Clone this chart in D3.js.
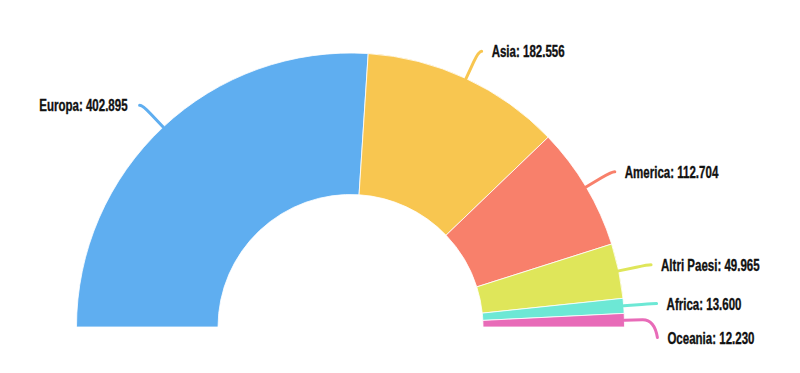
<!DOCTYPE html>
<html>
<head>
<meta charset="utf-8">
<script src="https://cdn.jsdelivr.net/npm/d3@7"></script>
<style>
  body { margin: 0; background: #fff; }
  text { font-family: "Liberation Sans", Arial, sans-serif; font-weight: bold; font-size: 16px; fill: #111; stroke: #111; stroke-width: 0.35px; }
</style>
</head>
<body>
<script>
// continents and residents
const categories = ['Europa', 'Asia', 'America', 'Altri Paesi', 'Africa', 'Oceania'];
const values = [402895, 182556, 112704, 49965, 13600, 12230];
const colors = ['#5faef0', '#f8c650', '#f8806b', '#dfe65a', '#6de8d5', '#e86bb8'];

const width = 800, height = 373;
const cx = 350.5, cy = 327;
const outerR = 274, innerR = 132.5;

const it = d3.formatLocale({ decimal: ',', thousands: '.', grouping: [3], currency: ['€', ''] });
const fmt = it.format(',d');

const data = categories.map((c, i) => ({ name: c, value: values[i], color: colors[i] }));

const pie = d3.pie()
	.value(d => d.value)
	.sort(null)
	.startAngle(-Math.PI / 2)
	.endAngle(Math.PI / 2);

const arcs = pie(data);

const arc = d3.arc().innerRadius(innerR).outerRadius(outerR);

const svg = d3.select('body').append('svg')
	.attr('width', width)
	.attr('height', height);

const g = svg.append('g').attr('transform', `translate(${cx},${cy})`);

g.selectAll('path.slice')
	.data(arcs)
	.enter()
	.append('path')
	.attr('class', 'slice')
	.attr('d', arc)
	.style('fill', d => d.data.color)
	.style('stroke', '#fff')
	.style('stroke-width', 0.8);

// label positions: point at outerR + 30 along the mid angle, pushed apart on each side
function polar(a, r) {
	return [Math.sin(a) * r, -Math.cos(a) * r];
}

const labels = arcs.map(d => {
	const mid = (d.startAngle + d.endAngle) / 2;
	const p = polar(mid, outerR + 30);
	return { d: d, mid: mid, x: p[0], y: p[1], right: Math.sin(mid) >= 0 };
});

const minGap = 34;
const rightSide = labels.filter(l => l.right).sort((a, b) => a.y - b.y);
for (let i = 1; i < rightSide.length; i++) {
	if (rightSide[i].y - rightSide[i - 1].y < minGap) rightSide[i].y = rightSide[i - 1].y + minGap;
}

labels.forEach(l => {
	const p0 = polar(l.mid, outerR);
	const p1 = polar(l.mid, outerR + 18);
	const pc = polar(l.mid, outerR + 30);
	const endX = l.x + (l.right ? 3 : -3);
	const path = d3.path();
	path.moveTo(p0[0], p0[1]);
	path.lineTo(p1[0], p1[1]);
	path.quadraticCurveTo(pc[0], pc[1], endX, l.y);
	g.append('path')
		.attr('d', path.toString())
		.style('fill', 'none')
		.style('stroke', l.d.data.color)
		.style('stroke-width', 3)
		.style('stroke-linecap', 'round');

	// condensed look: squeeze the text horizontally
	const tx = l.x + (l.right ? 13 : -15);
	const ty = l.y + 6;
	g.append('text')
		.attr('transform', `translate(${tx},${ty}) scale(0.72,1)`)
		.attr('text-anchor', l.right ? 'start' : 'end')
		.text(l.d.data.name + ': ' + fmt(l.d.data.value));
});
</script>
</body>
</html>
